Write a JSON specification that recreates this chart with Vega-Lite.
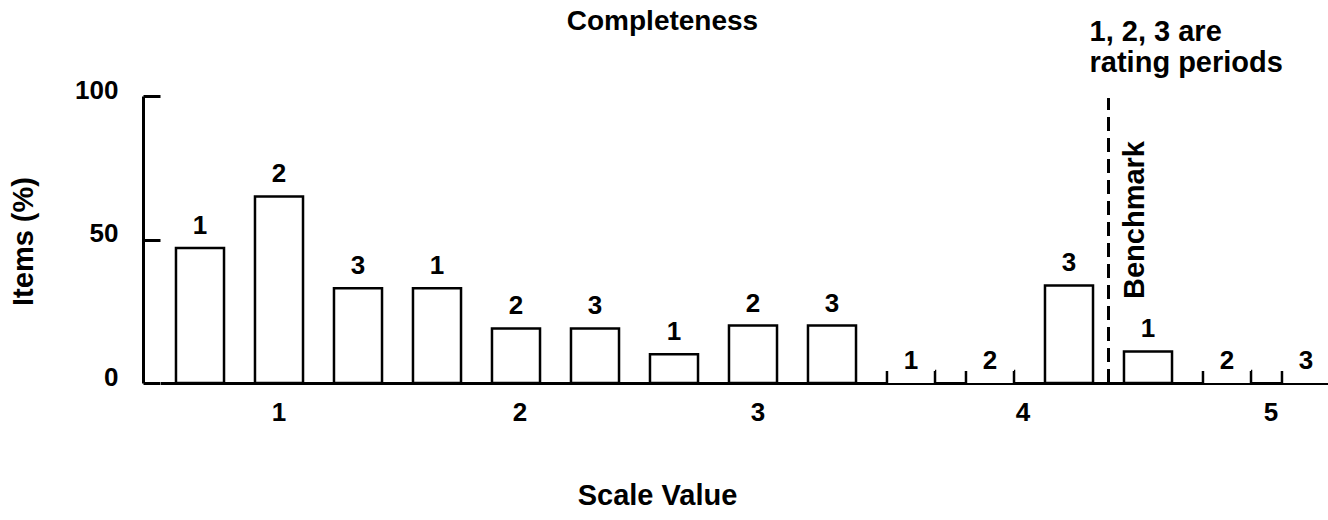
{
  "$schema": "https://vega.github.io/schema/vega-lite/v6.json",
  "width": 1185,
  "height": 287,
  "autosize": "none",
  "padding": {"left": 143, "top": 96, "right": 0, "bottom": 137},
  "background": "white",
  "title": {
    "text": "Completeness",
    "frame": "group",
    "anchor": "middle",
    "dx": -73,
    "offset": -18,
    "font": "Liberation Sans",
    "fontSize": 28,
    "fontWeight": "bold",
    "color": "black"
  },
  "config": {
    "view": {"stroke": null},
    "text": {"font": "Liberation Sans", "fontSize": 26, "fontWeight": "bold", "color": "black"},
    "axis": {
      "labelFont": "Liberation Sans",
      "labelFontSize": 26,
      "labelFontWeight": "bold",
      "labelColor": "black",
      "titleFont": "Liberation Sans",
      "titleFontSize": 29,
      "titleFontWeight": "bold",
      "titleColor": "black",
      "domainColor": "black",
      "domainWidth": 3,
      "tickColor": "black",
      "tickWidth": 3,
      "grid": false
    }
  },
  "data": {
    "values": [
      {"scale": 1, "period": 1, "pct": 47},
      {"scale": 1, "period": 2, "pct": 65},
      {"scale": 1, "period": 3, "pct": 33},
      {"scale": 2, "period": 1, "pct": 33},
      {"scale": 2, "period": 2, "pct": 19},
      {"scale": 2, "period": 3, "pct": 19},
      {"scale": 3, "period": 1, "pct": 10},
      {"scale": 3, "period": 2, "pct": 20},
      {"scale": 3, "period": 3, "pct": 20},
      {"scale": 4, "period": 1, "pct": 0},
      {"scale": 4, "period": 2, "pct": 0},
      {"scale": 4, "period": 3, "pct": 34},
      {"scale": 5, "period": 1, "pct": 11},
      {"scale": 5, "period": 2, "pct": 0},
      {"scale": 5, "period": 3, "pct": 0}
    ]
  },
  "encoding": {
    "x": {
      "field": "scale",
      "type": "ordinal",
      "scale": {"range": [17.5, 1202.5], "paddingInner": 0, "paddingOuter": 0},
      "axis": {
        "title": "Scale Value",
        "labelAngle": 0,
        "ticks": false,
        "labelPadding": 16,
        "labelOffset": {"expr": "datum.value == 2 ? 4 : datum.value == 3 ? 5 : datum.value == 4 ? 33 : datum.value == 5 ? 44 : 0"},
        "titleX": 514,
        "titleY": 112,
        "titleBaseline": "middle",
        "titleAlign": "center"
      }
    },
    "y": {
      "field": "pct",
      "type": "quantitative",
      "scale": {"domain": [0, 100], "nice": false},
      "axis": {
        "title": "Items (%)",
        "values": [0, 50, 100],
        "tickSize": -17,
        "labelPadding": 42,
        "labelOffset": -6,
        "titleX": -120,
        "titleY": 145,
        "titleAlign": "center",
        "titleBaseline": "middle"
      }
    }
  },
  "layer": [
    {
      "transform": [{"filter": "datum.pct > 0"}],
      "mark": {"type": "bar", "fill": "white", "stroke": "black", "strokeWidth": 2.5},
      "encoding": {
        "xOffset": {
          "field": "period",
          "type": "ordinal",
          "scale": {"paddingInner": 0.392, "paddingOuter": 0.196}
        }
      }
    },
    {
      "transform": [{"filter": "datum.pct == 0"}],
      "mark": {
        "type": "bar",
        "fill": "white",
        "stroke": "black",
        "strokeWidth": 2.5,
        "strokeDash": [12, 48],
        "strokeDashOffset": 12
      },
      "encoding": {
        "xOffset": {"field": "period", "type": "ordinal"},
        "y": {"datum": 4.2},
        "y2": {"datum": 0}
      }
    },
    {
      "mark": {"type": "text", "baseline": "alphabetic", "dy": -14},
      "encoding": {
        "xOffset": {"field": "period", "type": "ordinal"},
        "text": {"field": "period", "type": "nominal"}
      }
    },
    {
      "mark": {"type": "rule", "stroke": "black", "strokeWidth": 2.5, "strokeDash": [14, 7]},
      "encoding": {
        "x": {"datum": 5, "bandPosition": 0},
        "y": {"datum": 0},
        "y2": {"datum": 99}
      }
    },
    {
      "transform": [{"filter": "datum.scale == 5 && datum.period == 1"}],
      "mark": {"type": "text", "text": "Benchmark", "angle": 270, "align": "center", "baseline": "alphabetic", "fontSize": 29},
      "encoding": {
        "x": {"datum": 5, "bandPosition": 0.148},
        "y": {"datum": 56.8}
      }
    },
    {
      "transform": [{"filter": "datum.scale == 5 && datum.period == 1"}],
      "mark": {
        "type": "text",
        "text": ["1, 2, 3 are", "rating periods"],
        "align": "left",
        "baseline": "alphabetic",
        "fontSize": 29,
        "lineHeight": 31
      },
      "encoding": {
        "x": {"datum": 4, "bandPosition": 0.92},
        "y": {"datum": 119}
      }
    }
  ]
}
